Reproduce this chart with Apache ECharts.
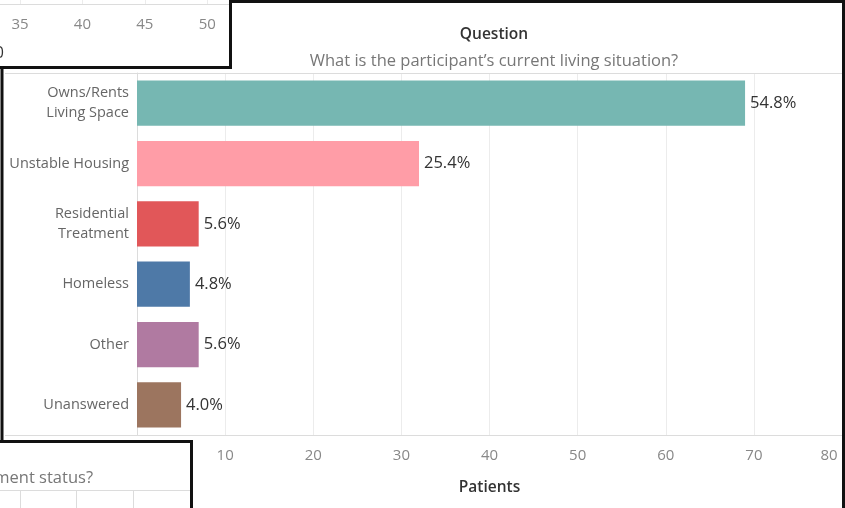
<!DOCTYPE html>
<html>
<head>
<meta charset="utf-8">
<script src="https://cdn.jsdelivr.net/npm/echarts@6/dist/echarts.min.js"></script>
<style>
html, body { margin: 0; padding: 0; background: #fff; }
#chart { width: 845px; height: 508px; }
</style>
</head>
<body>
<div id="chart"></div>
<script>
// main chart data
const categories = ['Owns/Rents\nLiving Space', 'Unstable Housing', 'Residential\nTreatment', 'Homeless', 'Other', 'Unanswered']
const patients = [69, 32, 7, 6, 7, 5]
const barColors = ['#76b7b2', '#ff9da7', '#e15759', '#4e79a7', '#b07aa1', '#9c755f']
const axisMax = 80
const axisStep = 10

// neighbouring dashboard panel (only its axis edge is visible)
const sideAxisMin = 35
const sideAxisMax = 51.9
const sideAxisStep = 5

const total = patients.reduce((a, b) => a + b, 0)
const font = 'Open Sans'
const black = '#111'
const gray = '#dcdcdc'

const chart = echarts.init(document.getElementById('chart'))

const borderLine = (x1, y1, x2, y2) => ({
	type: 'line',
	z: 100,
	shape: { x1, y1, x2, y2 },
	style: { stroke: black, lineWidth: 3 }
})
const thinLine = (x1, y1, x2, y2) => ({
	type: 'line',
	z: 50,
	shape: { x1, y1, x2, y2 },
	style: { stroke: gray, lineWidth: 1 }
})

const options = {
	animation: false,
	textStyle: { fontFamily: font },
	title: {
		text: 'Question',
		subtext: 'What is the participant\u2019s current living situation?',
		left: 489,
		top: 22,
		textAlign: 'center',
		itemGap: 10,
		textStyle: { fontFamily: font, fontSize: 15.5, fontWeight: 600, color: '#333' },
		subtextStyle: { fontFamily: font, fontSize: 16.5, color: '#777' }
	},
	grid: [
		{ left: 137, right: 3, top: 73, bottom: 73 },
		{ left: 20, top: 0, width: 211, height: 4 }
	],
	xAxis: [
		{
			type: 'value',
			gridIndex: 0,
			min: 0,
			max: axisMax,
			interval: axisStep,
			name: 'Patients',
			nameLocation: 'middle',
			nameGap: 45,
			nameTextStyle: { fontFamily: font, fontSize: 15.5, fontWeight: 600, color: '#333' },
			axisLine: { show: false },
			axisTick: { show: false },
			axisLabel: {
				color: '#888',
				fontSize: 15,
				margin: 13,
				showMinLabel: false,
				// keep the last label inside the panel
				formatter: (v) => (v === axisMax ? '{last|' + v + '}' : String(v)),
				rich: { last: { color: '#888', fontSize: 15, padding: [0, 26, 0, 0] } }
			},
			splitLine: { lineStyle: { color: '#ececec' } }
		},
		{
			type: 'value',
			gridIndex: 1,
			min: sideAxisMin,
			max: sideAxisMax,
			interval: sideAxisStep,
			axisLine: { show: false },
			axisTick: { show: false },
			axisLabel: { color: '#888', fontSize: 15, margin: 13, showMaxLabel: false },
			splitLine: { lineStyle: { color: '#ececec' } }
		}
	],
	yAxis: [
		{
			type: 'category',
			gridIndex: 0,
			data: categories,
			inverse: true,
			axisLine: { show: true, lineStyle: { color: gray } },
			axisTick: { show: false },
			axisLabel: { color: '#666', fontSize: 14.5, margin: 8, lineHeight: 20 }
		},
		{ type: 'value', gridIndex: 1, show: false }
	],
	series: [
		{
			type: 'bar',
			xAxisIndex: 0,
			yAxisIndex: 0,
			barCategoryGap: '25%',
			data: patients.map((v, i) => ({ value: v, itemStyle: { color: barColors[i] } })),
			label: {
				show: true,
				position: 'right',
				distance: 5,
				color: '#333',
				fontSize: 16.5,
				formatter: (p) => (p.value / total * 100).toFixed(1) + '%'
			}
		}
	],
	graphic: [
		// row dividers of the main panel
		thinLine(5, 73.5, 843, 73.5),
		thinLine(5, 435.5, 843, 435.5),
		thinLine(0, 4.5, 231, 4.5),
		// lower left panel fragment
		thinLine(0, 490.5, 190, 490.5),
		thinLine(20.5, 490, 20.5, 508),
		thinLine(76.5, 490, 76.5, 508),
		thinLine(133.5, 490, 133.5, 508),
		{
			type: 'text',
			z: 100,
			style: {
				x: 93, y: 478,
				text: 'What is the participant\u2019s current employment status?',
				align: 'right', verticalAlign: 'middle',
				fontFamily: font, fontSize: 16.5, fill: '#777'
			}
		},
		{
			type: 'text',
			z: 100,
			style: {
				x: 4, y: 53,
				text: '0',
				align: 'right', verticalAlign: 'middle',
				fontFamily: font, fontSize: 16, fill: '#333'
			}
		},
		// dashboard panel borders
		borderLine(230.5, 0, 230.5, 69),
		borderLine(0, 67.5, 232, 67.5),
		borderLine(229, 1.5, 845, 1.5),
		borderLine(2, 66, 2, 442),
		borderLine(843.5, 0, 843.5, 508),
		borderLine(0, 441.5, 193, 441.5),
		borderLine(191.5, 440, 191.5, 508)
	]
}
chart.setOption(options)
</script>
</body>
</html>
